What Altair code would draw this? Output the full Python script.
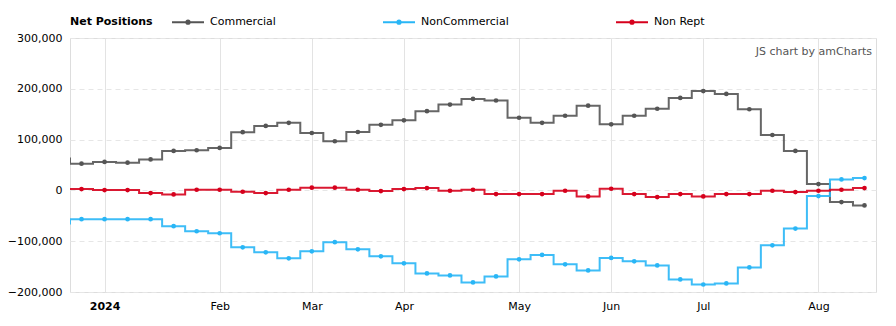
import altair as alt
import pandas as pd

# Weekly report dates (Tuesdays)
dates = [
    "2023-12-19", "2023-12-26", "2024-01-02", "2024-01-09", "2024-01-16", "2024-01-23",
    "2024-01-30", "2024-02-06", "2024-02-13", "2024-02-20", "2024-02-27", "2024-03-05",
    "2024-03-12", "2024-03-19", "2024-03-26", "2024-04-02", "2024-04-09", "2024-04-16",
    "2024-04-23", "2024-04-30", "2024-05-07", "2024-05-14", "2024-05-21", "2024-05-28",
    "2024-06-04", "2024-06-11", "2024-06-18", "2024-06-25", "2024-07-02", "2024-07-09",
    "2024-07-16", "2024-07-23", "2024-07-30", "2024-08-06", "2024-08-13", "2024-08-20",
]

series_names = ["Commercial", "NonCommercial", "Non Rept"]
series_colors = ["#555555", "#29b6f6", "#d6001c"]

commercial = [
    63000, 52700, 56000, 54600, 61000, 77800, 79000, 83600, 114600, 127000, 133000, 113000,
    96800, 115000, 129000, 138000, 156000, 169000, 180000, 177000, 143000, 133000, 147000, 166700,
    130000, 147000, 160700, 182000, 195600, 190000, 159700, 109000, 77700, 12500, -23000, -29600,
]
noncommercial = [
    -65000, -56600, -56600, -56600, -56600, -70500, -80400, -84300, -112000, -121900, -133700, -119900,
    -102000, -116000, -129800, -143600, -163400, -167300, -181200, -169300, -135700, -127000, -145600, -157500,
    -133000, -139700, -147600, -175300, -185200, -183200, -151600, -108100, -75100, -11200, 21700, 24300,
]
nonrept = [
    2600, 2600, 700, 700, -5300, -7900, 1300, 1300, -2600, -5300, 1300, 5300,
    5300, 1300, -1300, 2600, 4600, -700, 1300, -7200, -7200, -7200, -700, -11900,
    3300, -7200, -13200, -7200, -11900, -7200, -7200, -700, -3300, -700, 1300, 4600,
]

y_ticks = [-200000, -100000, 0, 100000, 200000, 300000]
watermark = ["JS chart by amCharts"]

# ---- build table (equal spacing per weekly report) ----
ts = pd.to_datetime(dates)
offset = next(i for i, t in enumerate(ts) if t.year == 2024)
rows = []
for i, d in enumerate(dates):
    for name, vals in zip(series_names, [commercial, noncommercial, nonrept]):
        rows.append({"idx": i - offset, "date": d, "series": name, "value": vals[i]})
df = pd.DataFrame(rows)

tick_idx, tick_lbl = [], []
for i in range(1, len(ts)):
    if ts[i].month != ts[i - 1].month:
        tick_idx.append(i - offset)
        tick_lbl.append(str(ts[i].year) if ts[i].month == 1 else ts[i].strftime("%b"))
year_idx = [t for t, l in zip(tick_idx, tick_lbl) if l.isdigit()]

label_expr = "''"
for t, l in reversed(list(zip(tick_idx, tick_lbl))):
    label_expr = f"datum.value == {t} ? '{l}' : ({label_expr})"
bold_test = " || ".join(f"datum.value == {t}" for t in year_idx) or "false"

x_domain = [-1.5, len(dates) - offset - 0.5]

color_scale = alt.Scale(domain=series_names, range=series_colors)
legend = alt.Legend(
    title="Net Positions", orient="top", direction="horizontal", titleOrient="left",
    titleFontWeight="bold", titleFontSize=11, titleColor="#000", titlePadding=18,
    titleBaseline="top", titleAnchor="middle",
    labelFontSize=11, labelColor="#000", labelOffset=5,
    symbolType="M-1,0L1,0M-0.1,0A0.1,0.1,0,1,0,0.1,0A0.1,0.1,0,1,0,-0.1,0",
    symbolSize=1024, symbolStrokeWidth=2, columnPadding=103, offset=10,
)

base = alt.Chart(df).encode(
    x=alt.X(
        "idx:Q",
        scale=alt.Scale(domain=x_domain, nice=False, zero=False),
        axis=alt.Axis(
            values=tick_idx, labelExpr=label_expr, title=None, grid=True,
            gridColor="#e3e3e3", domain=False, ticks=False, labelPadding=8,
            labelFontSize=11, labelColor="#000", labelFlush=False,
            labelFontWeight={"condition": {"test": bold_test, "value": "bold"}, "value": "normal"},
        ),
    ),
    y=alt.Y(
        "value:Q",
        scale=alt.Scale(domain=[y_ticks[0], y_ticks[-1]], nice=False),
        axis=alt.Axis(
            values=y_ticks, format=",.0f", title=None, grid=True, gridDash=[5, 4],
            gridColor="#e6e6e6", domain=False, ticks=False, labelPadding=8,
            labelFontSize=11, labelColor="#000",
        ),
    ),
    color=alt.Color("series:N", scale=color_scale, legend=legend, sort=series_names),
)

lines = base.mark_line(interpolate="step", strokeWidth=2, clip=True, strokeOpacity=0.9)
points = base.mark_point(filled=True, size=22, opacity=1, clip=True)

wm = alt.Chart(pd.DataFrame({"t": watermark})).mark_text(
    align="right", baseline="middle", fontSize=11, color="#555555"
).encode(x=alt.value(802), y=alt.value(14), text="t:N")

chart = alt.layer(lines, points, wm).properties(
    width=806, height=254,
    autosize=alt.AutoSizeParams(type="none"),
    padding={"left": 70, "top": 38, "right": 20, "bottom": 34},
).configure_view(stroke=None).configure(font="DejaVu Sans")

chart.save("out.html", embed_options={"renderer": "svg", "actions": False})
